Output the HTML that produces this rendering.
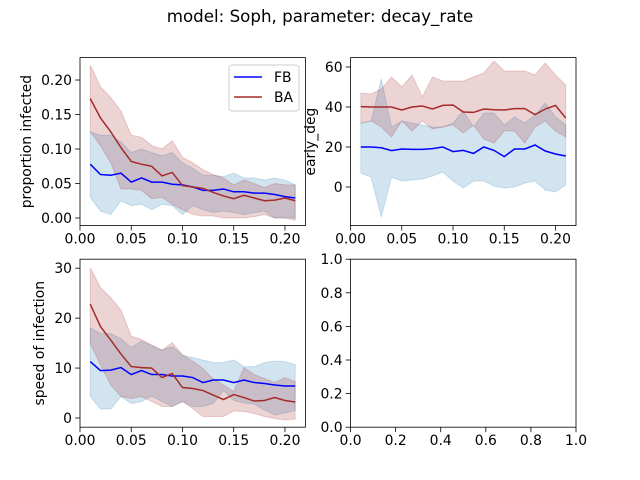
<!DOCTYPE html>
<html><head><meta charset="utf-8">
<style>
body{margin:0;background:#fff;}
svg{display:block;font-family:"DejaVu Sans","Liberation Sans",sans-serif;}
</style></head>
<body>
<svg id="fig" width="640" height="480" viewBox="0 0 640 480" xmlns="http://www.w3.org/2000/svg">
<rect width="640" height="480" fill="#fff"/>
<text x="320" y="22" text-anchor="middle" font-size="16.7" fill="#000">model: Soph, parameter: decay_rate</text>
</svg>
<script>
const xs = [0.01,0.02,0.03,0.04,0.05,0.06,0.07,0.08,0.09,0.10,0.11,0.12,0.13,0.14,0.15,0.16,0.17,0.18,0.19,0.20,0.21];
const xTicks = [0.00,0.05,0.10,0.15,0.20];
const xTickLabels = ["0.00","0.05","0.10","0.15","0.20"];

// proportion infected
const p_fb = [0.078,0.063,0.062,0.065,0.052,0.058,0.052,0.052,0.049,0.048,0.045,0.040,0.040,0.042,0.038,0.038,0.036,0.036,0.034,0.031,0.029];
const p_fb_hi = [0.125,0.120,0.120,0.110,0.095,0.100,0.095,0.090,0.095,0.080,0.072,0.062,0.062,0.060,0.065,0.058,0.058,0.055,0.058,0.055,0.048];
const p_fb_lo = [0.030,0.010,0.005,0.025,0.018,0.020,0.012,0.020,0.018,0.005,0.018,0.012,0.008,0.010,0.008,0.005,0.008,0.010,0.000,0.000,0.000];
const p_ba = [0.173,0.145,0.125,0.102,0.082,0.078,0.075,0.061,0.066,0.047,0.045,0.043,0.037,0.032,0.028,0.033,0.029,0.025,0.026,0.029,0.025];
const p_ba_hi = [0.222,0.190,0.175,0.155,0.120,0.117,0.105,0.100,0.112,0.088,0.080,0.070,0.063,0.058,0.048,0.055,0.050,0.044,0.050,0.048,0.048];
const p_ba_lo = [0.125,0.105,0.080,0.042,0.042,0.040,0.028,0.030,0.020,0.012,0.005,0.003,0.003,0.000,0.000,0.000,0.002,0.005,0.000,0.000,-0.003];
const p_yTicks = [0.00,0.05,0.10,0.15,0.20];
const p_yTickLabels = ["0.00","0.05","0.10","0.15","0.20"];

// early_deg
const e_fb = [20,20,19.6,18.2,19,18.8,18.8,19.2,20,17.7,18.3,16.8,20,18.3,15.2,19,19,21,18,16.5,15.5];
const e_fb_hi = [32,33,54,30,33,32,31,30,30,32,38,30,37,37,31,35,32,36,42,35,31];
const e_fb_lo = [7,5,-15,5,3,3.5,4,5.5,7.5,3,-0.5,3,3,0.5,-0.5,0,2,3,-1.5,-2.5,1];
const e_ba = [40.2,40,40,40,38.5,40,40.5,39,40.8,41,37.5,37.3,39,38.6,38.5,39.2,39.2,36.2,39,40.8,34.5];
const e_ba_hi = [47,46.5,49,55,50,56,45,55,53,53,53,55,57,63,58,58,58,56,62,56,51];
const e_ba_lo = [32,33,30,25,33,28,33,29,30,31,27,31,24,22,28,28,22,30,33,28,25];
const e_yTicks = [0,20,40,60];
const e_yTickLabels = ["0","20","40","60"];

// speed of infection
const s_fb = [11.3,9.5,9.6,10.1,8.7,9.5,8.7,8.7,8.4,8.4,8.1,7.1,7.6,7.6,7.1,7.6,7.1,6.9,6.6,6.4,6.4];
const s_fb_hi = [18.1,16.9,16.9,15.9,14.1,15.4,14.5,13.6,14.3,12.6,12.1,11.6,11.1,11.1,11.6,10.3,10.3,11.1,11.4,11.3,10.7];
const s_fb_lo = [4.3,1.8,1.8,4.3,2.9,3.3,4.4,3.3,2.3,3.3,2.3,2.3,2.9,5.5,3.5,3.0,2.8,1.6,0.6,1.0,1.5];
const s_ba = [22.8,18.3,15.6,12.8,10.3,10.1,10.0,8.1,8.9,6.1,5.9,5.5,4.6,3.7,4.7,4.1,3.4,3.5,4.1,3.5,3.2];
const s_ba_hi = [30.1,26.1,24.1,21.6,16.4,15.7,14.6,13.6,15.1,12.6,11.4,9.9,7.8,6.6,5.3,10.1,8.7,7.9,7.1,8.1,7.3];
const s_ba_lo = [14.9,10.6,6.6,4.3,3.9,4.3,3.3,2.3,2.3,3.3,1.9,0.3,0.3,0.3,1.4,1.3,0.9,0.3,-0.1,-0.4,-0.2];
const s_yTicks = [0,10,20,30];
const s_yTickLabels = ["0","10","20","30"];

const u_ticks = [0,0.2,0.4,0.6,0.8,1.0];
const u_tickLabels = ["0.0","0.2","0.4","0.6","0.8","1.0"];

const NS="http://www.w3.org/2000/svg";
const fig=document.getElementById('fig');
function mk(tag,attrs,parent){const e=document.createElementNS(NS,tag);for(const k in attrs)e.setAttribute(k,attrs[k]);(parent||fig).appendChild(e);return e;}

function axes(name,L,T,W,H,xmin,xmax,ymin,ymax,xt,xtl,yt,ytl,ylabel,ylabX){
  const g=mk('g',{});
  
  
  const sx=v=>L+(v-xmin)/(xmax-xmin)*W;
  const sy=v=>T+H-(v-ymin)/(ymax-ymin)*H;
  const plot=mk('g',{},g);
  
  
  xt.forEach((v,i)=>{const x=sx(v);
    const t=mk('line',{x1:x,x2:x,y1:T+H,y2:T+H+4.9,stroke:'#000','stroke-width':0.8},g);
    
    const l=mk('text',{x:x,y:T+H+18,'text-anchor':'middle','font-size':13.9,fill:'#000'},g);l.textContent=xtl[i];
    });
  yt.forEach((v,i)=>{const y=sy(v);
    const t=mk('line',{x1:L-4.9,x2:L,y1:y,y2:y,stroke:'#000','stroke-width':0.8},g);
    
    const l=mk('text',{x:L-8,y:y+5,'text-anchor':'end','font-size':13.9,fill:'#000'},g);l.textContent=ytl[i];
    });
  if(ylabel){const l=mk('text',{x:ylabX,y:T+H/2,'text-anchor':'middle','font-size':13.9,fill:'#000',transform:`rotate(-90 ${ylabX} ${T+H/2})`},g);
    l.textContent=ylabel;}
  return {g:plot,sx,sy,L,T,W,H,frame:()=>{const r=mk('rect',{x:L,y:T,width:W,height:H,fill:'none',stroke:'#000','stroke-width':0.8},g);
    }};
}
function band(ax,lo,hi,color,nm){
  let d='';xs.forEach((x,i)=>{d+=(i?'L':'M')+ax.sx(x).toFixed(2)+','+ax.sy(hi[i]).toFixed(2);});
  for(let i=xs.length-1;i>=0;i--)d+='L'+ax.sx(xs[i]).toFixed(2)+','+ax.sy(lo[i]).toFixed(2);
  const p=mk('path',{d:d+'Z',fill:color,'fill-opacity':0.2,stroke:color,'stroke-opacity':0.2,'stroke-width':1},ax.g);
  
}
function line(ax,ys,color,nm){
  const pts=xs.map((x,i)=>ax.sx(x).toFixed(2)+','+ax.sy(ys[i]).toFixed(2)).join(' ');
  const p=mk('polyline',{points:pts,fill:'none',stroke:color,'stroke-width':1.5},ax.g);
  
}
const FBF='#1f77b4', FBL='#0000ff', BAC='#a52a2a';
const W=225.45,H=168;
function series(ax,fb,fbl,fbh,ba,bal,bah,pre){
  band(ax,fbl,fbh,FBF,pre+'-fb-band');
  band(ax,bal,bah,BAC,pre+'-ba-band');
  line(ax,fb,FBL,pre+'-fb-line');
  line(ax,ba,BAC,pre+'-ba-line');
  ax.frame();
}
const a1=axes('proportion-infected-axes',80,57.6,W,H,0,0.22,-0.011,0.2325,xTicks,xTickLabels,p_yTicks,p_yTickLabels,'proportion infected',31);
series(a1,p_fb,p_fb_lo,p_fb_hi,p_ba,p_ba_lo,p_ba_hi,'infected');
const a2=axes('early-deg-axes',350.55,57.6,W,H,0,0.22,-19.3,64.7,xTicks,xTickLabels,e_yTicks,e_yTickLabels,'early_deg',315);
series(a2,e_fb,e_fb_lo,e_fb_hi,e_ba,e_ba_lo,e_ba_hi,'early-deg');
const a3=axes('speed-axes',80,259.2,W,H,0,0.22,-1.84,31.8,xTicks,xTickLabels,s_yTicks,s_yTickLabels,'speed of infection',44);
series(a3,s_fb,s_fb_lo,s_fb_hi,s_ba,s_ba_lo,s_ba_hi,'speed');
const a4=axes('empty-axes',350.55,259.2,W,H,0,1,0,1,u_ticks,u_tickLabels,u_ticks,u_tickLabels,'',0);
a4.frame();

// legend
const lg=mk('g',{});


mk('rect',{x:229,y:65,width:70,height:46,rx:3,fill:'#fff','fill-opacity':0.8,stroke:'#ccc','stroke-width':1},lg);
[['FB',FBL,81],['BA',BAC,101]].forEach(([t,c,y])=>{
  const e=mk('g',{},lg);
  
  
  mk('line',{x1:234,x2:262,y1:y-4,y2:y-4,stroke:c,'stroke-width':1.5},e);
  const tx=mk('text',{x:274,y:y+1,'font-size':13.9,fill:'#000'},e);tx.textContent=t;
});
</script>
</body></html>
